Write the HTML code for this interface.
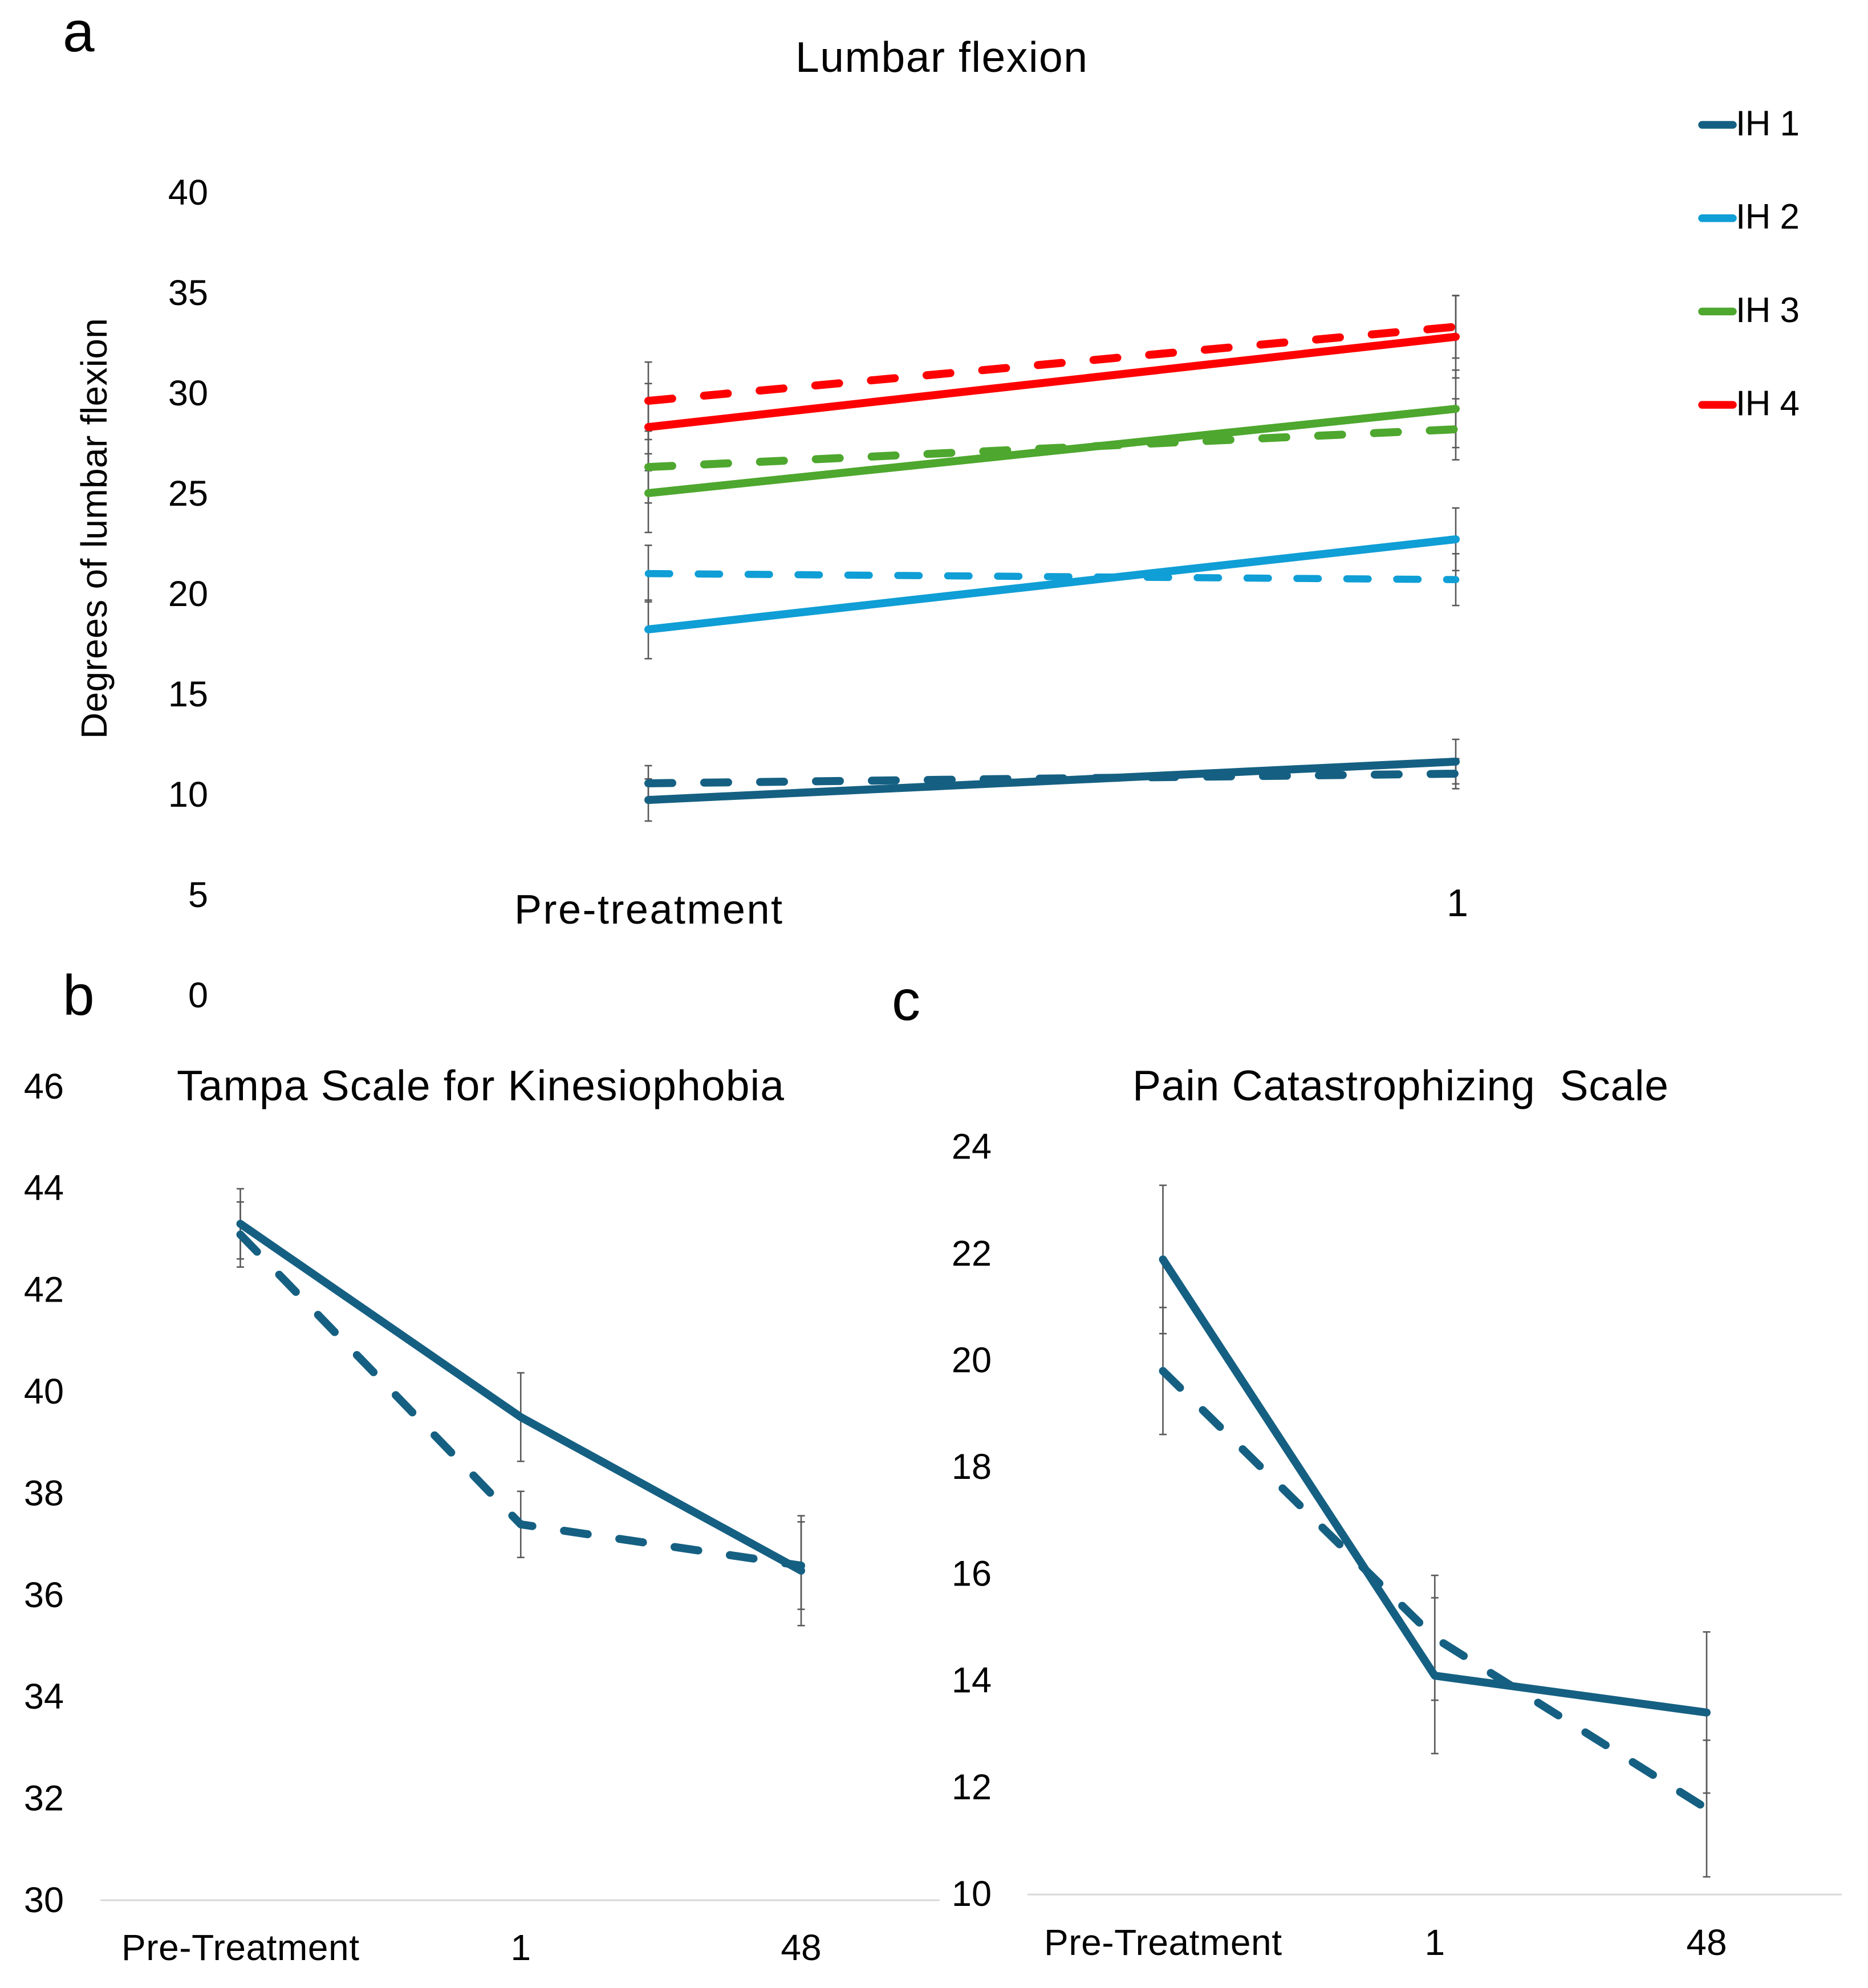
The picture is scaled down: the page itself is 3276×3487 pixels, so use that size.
<!DOCTYPE html>
<html lang="en">
<head>
<meta charset="utf-8">
<title>Lumbar flexion, Tampa Scale for Kinesiophobia and Pain Catastrophizing Scale</title>
<style>
  html, body { margin: 0; padding: 0; background: #ffffff; }
  body { width: 3276px; height: 3487px; overflow: hidden; }
  svg { display: block; }
  text { font-family: "Liberation Sans", sans-serif; fill: #000000; }
</style>
</head>
<body>
<svg id="figure" xmlns="http://www.w3.org/2000/svg" width="3276" height="3487" viewBox="0 0 3276 3487">
  <rect x="0" y="0" width="3276" height="3487" fill="#ffffff"/>
  <text x="110" y="90" font-size="100">a</text>
  <text x="110" y="1780" font-size="100">b</text>
  <text x="1564" y="1789" font-size="100">c</text>
  <text x="1395" y="126" font-size="75" textLength="512" lengthAdjust="spacing">Lumbar flexion</text>
  <text x="310" y="1930" font-size="75" textLength="1065" lengthAdjust="spacing">Tampa Scale for Kinesiophobia</text>
  <text x="1986" y="1930" font-size="75" textLength="940" lengthAdjust="spacing" xml:space="preserve">Pain Catastrophizing  Scale</text>
  <text transform="translate(187 1296) rotate(-90)" font-size="64" textLength="738" lengthAdjust="spacing">Degrees of lumbar flexion</text>
  <g id="panel-a"></g>
  <g id="panel-b"></g>
  <g id="panel-c"></g>
  <g id="legend"></g>
</svg>
<script>
// ---- Panel a data: lumbar flexion ----
const categoriesA = ['Pre-treatment', '1'];
const ticksA = [0, 5, 10, 15, 20, 25, 30, 35, 40];
const ih1SolidA = [9.74, 11.65];
const ih1DashedA = [10.57, 11.05];
const ih2SolidA = [18.24, 22.73];
const ih2DashedA = [21.02, 20.72];
const ih3SolidA = [25.03, 29.23];
const ih3DashedA = [26.33, 28.21];
const ih4SolidA = [28.32, 32.82];
const ih4DashedA = [29.63, 33.32];
const ih1SolidErrA = [1.05, 1.11];
const ih1DashedErrA = [0.88, 0.75];
const ih2SolidErrA = [1.46, 1.56];
const ih2DashedErrA = [1.41, 1.29];
const ih3SolidErrA = [1.96, 1.93];
const ih3DashedErrA = [1.79, 1.52];
const ih4SolidErrA = [2.17, 2.05];
const ih4DashedErrA = [1.93, 1.56];

// ---- Panel b data: Tampa Scale for Kinesiophobia ----
const categoriesB = ['Pre-Treatment', '1', '48'];
const ticksB = [30, 32, 34, 36, 38, 40, 42, 44, 46];
const solidB = [43.3, 39.5, 36.48];
const dashedB = [43.09, 37.39, 36.58];
const solidErrB = [0.69, 0.87, 1.08];
const dashedErrB = [0.64, 0.65, 0.86];

// ---- Panel c data: Pain Catastrophizing Scale ----
const categoriesC = ['Pre-Treatment', '1', '48'];
const ticksC = [10, 12, 14, 16, 18, 20, 22, 24];
const solidC = [21.89, 14.09, 13.4];
const dashedC = [19.8, 14.8, 11.6];
const solidErrC = [1.39, 1.46, 1.51];
const dashedErrC = [1.19, 1.17, 1.28];

// ---- Legend ----
const legendLabels = ['IH 1', 'IH 2', 'IH 3', 'IH 4'];

const NS = 'http://www.w3.org/2000/svg';
const DARK = '#156082', LIGHT = '#0F9ED5', GREEN = '#4EA72E', RED = '#FF0000', BAR = '#595959';

// Axis functions
function yA(v) { return 1746 - 35.2 * v; }
function xA(i) { return 1137 + 1416 * i; }
function yB(v) { return 3333 - 89.2 * (v - 30); }
function xB(i) { return 421.5 + 491.75 * i; }
function yC(v) { return 3322 - 93.6 * (v - 10); }
function xC(i) { return 2039.5 + 476.75 * i; }

function make(tag, parent, attrs, txt) {
  const el = document.createElementNS(NS, tag);
  for (const k in attrs) el.setAttribute(k, attrs[k]);
  if (txt !== undefined) el.textContent = txt;
  parent.appendChild(el);
  return el;
}

function drawErrorBars(parent, name, values, errs, xf, yf) {
  values.forEach(function (v, i) {
    const x = xf(i), hi = yf(v + errs[i]), lo = yf(v - errs[i]);
    const g = make('g', parent, { stroke: BAR, 'stroke-width': 2.6, fill: 'none' });
    
    
    make('line', g, { x1: x, x2: x, y1: hi, y2: lo });
    make('line', g, { x1: x - 6.5, x2: x + 6.5, y1: hi, y2: hi });
    make('line', g, { x1: x - 6.5, x2: x + 6.5, y1: lo, y2: lo });
  });
}

function drawLine(parent, name, values, color, width, dash, xf, yf) {
  const pts = values.map(function (v, i) { return xf(i) + ',' + yf(v); }).join(' ');
  const attrs = { points: pts, fill: 'none', stroke: color, 'stroke-width': width, 'stroke-linecap': 'round', 'stroke-linejoin': 'round' };
  if (dash) attrs['stroke-dasharray'] = dash;
  const el = make('polyline', parent, attrs);
  
  
}

function drawTicks(parent, ticks, yf, right, size) {
  ticks.forEach(function (t) {
    const el = make('text', parent, { x: right, y: yf(t) + 21, 'font-size': size, 'text-anchor': 'end' }, String(t));
    
    
  });
}

function drawCategories(parent, cats, xf, baseline, size) {
  cats.forEach(function (c, i) {
    const attrs = { x: xf(i), y: baseline, 'font-size': size, 'text-anchor': 'middle' };
    if (c.indexOf('Pre') === 0) { attrs.textLength = c === 'Pre-treatment' ? 470 : 417; attrs.lengthAdjust = 'spacing'; }
    const el = make('text', parent, attrs, c);
    
    
  });
}

function drawAxisLine(parent, x1, x2, y) {
  const el = make('line', parent, { x1: x1, x2: x2, y1: y, y2: y, stroke: '#D9D9D9', 'stroke-width': 3 });
  
  
}

const SOLID_W = 14, DASH_W = 14, D14 = '42 56', D12 = '37.5 50';

// Panel a
const pa = document.getElementById('panel-a');
drawTicks(pa, ticksA, yA, 365, 63);
drawCategories(pa, [categoriesA[0]], xA, 1620, 72);
const oneLabel = make('text', pa, { x: xA(1) + 3, y: 1607, 'font-size': 68, 'text-anchor': 'middle' }, categoriesA[1]);


drawErrorBars(pa, 'ih1-solid', ih1SolidA, ih1SolidErrA, xA, yA);
drawErrorBars(pa, 'ih1-dashed', ih1DashedA, ih1DashedErrA, xA, yA);
drawErrorBars(pa, 'ih2-solid', ih2SolidA, ih2SolidErrA, xA, yA);
drawErrorBars(pa, 'ih2-dashed', ih2DashedA, ih2DashedErrA, xA, yA);
drawErrorBars(pa, 'ih3-solid', ih3SolidA, ih3SolidErrA, xA, yA);
drawErrorBars(pa, 'ih3-dashed', ih3DashedA, ih3DashedErrA, xA, yA);
drawErrorBars(pa, 'ih4-solid', ih4SolidA, ih4SolidErrA, xA, yA);
drawErrorBars(pa, 'ih4-dashed', ih4DashedA, ih4DashedErrA, xA, yA);
drawLine(pa, 'ih1-solid-line', ih1SolidA, DARK, SOLID_W, null, xA, yA);
drawLine(pa, 'ih1-dashed-line', ih1DashedA, DARK, DASH_W, D14, xA, yA);
drawLine(pa, 'ih2-solid-line', ih2SolidA, LIGHT, SOLID_W, null, xA, yA);
drawLine(pa, 'ih2-dashed-line', ih2DashedA, LIGHT, 12.5, D12, xA, yA);
drawLine(pa, 'ih3-solid-line', ih3SolidA, GREEN, SOLID_W, null, xA, yA);
drawLine(pa, 'ih3-dashed-line', ih3DashedA, GREEN, DASH_W, D14, xA, yA);
drawLine(pa, 'ih4-solid-line', ih4SolidA, RED, SOLID_W, null, xA, yA);
drawLine(pa, 'ih4-dashed-line', ih4DashedA, RED, DASH_W, D14, xA, yA);

// Panel b
const pb = document.getElementById('panel-b');
drawTicks(pb, ticksB, yB, 112, 63);
drawAxisLine(pb, 176, 1648, 3333);
drawCategories(pb, categoriesB, xB, 3438, 64);
drawErrorBars(pb, 'tampa-solid', solidB, solidErrB, xB, yB);
drawErrorBars(pb, 'tampa-dashed', dashedB, dashedErrB, xB, yB);
drawLine(pb, 'tampa-solid-line', solidB, DARK, SOLID_W, null, xB, yB);
drawLine(pb, 'tampa-dashed-line', dashedB, DARK, DASH_W, D14, xB, yB);

// Panel c
const pc = document.getElementById('panel-c');
drawTicks(pc, ticksC, yC, 1739, 63);
drawAxisLine(pc, 1802, 3230, 3323);
drawCategories(pc, categoriesC, xC, 3429, 64);
drawErrorBars(pc, 'pcs-solid', solidC, solidErrC, xC, yC);
drawErrorBars(pc, 'pcs-dashed', dashedC, dashedErrC, xC, yC);
drawLine(pc, 'pcs-solid-line', solidC, DARK, SOLID_W, null, xC, yC);
drawLine(pc, 'pcs-dashed-line', dashedC, DARK, DASH_W, D14, xC, yC);

// Legend
const lg = document.getElementById('legend');
const legendColors = [DARK, LIGHT, GREEN, RED];
legendLabels.forEach(function (label, i) {
  const cy = 219 + 163.7 * i;
  const key = make('line', lg, { x1: 2985, x2: 3039, y1: cy, y2: cy, stroke: legendColors[i], 'stroke-width': 13.5, 'stroke-linecap': 'round' });
  
  
  const t = make('text', lg, { x: 3044, y: cy + 18.5, 'font-size': 62, textLength: 112, lengthAdjust: 'spacing' }, label);
  
  
});
</script>
</body>
</html>
